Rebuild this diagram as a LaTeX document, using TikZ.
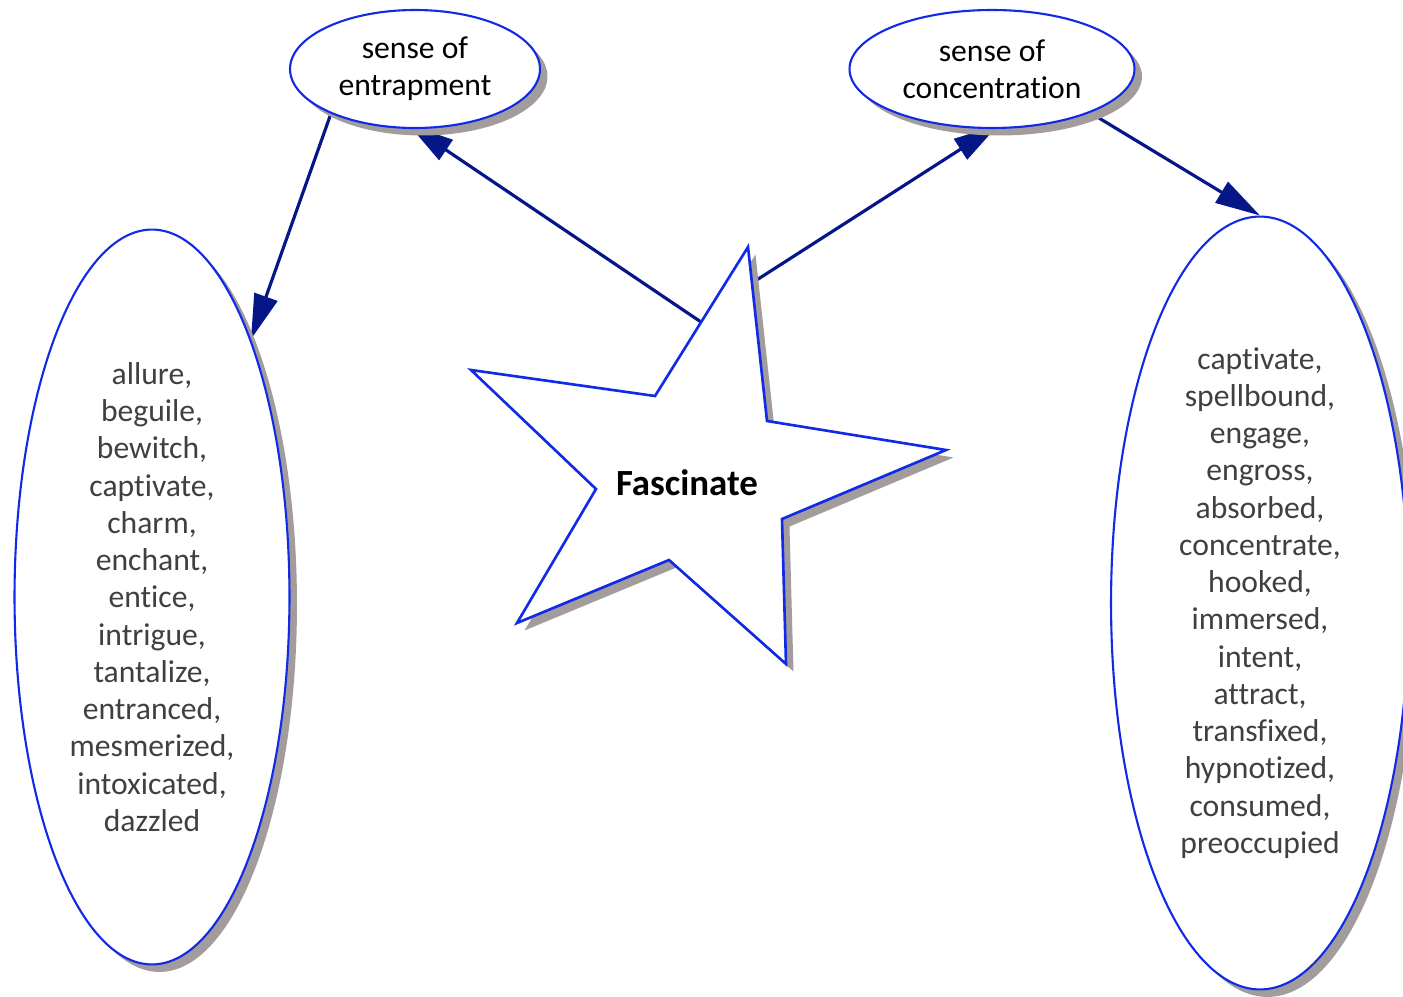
\documentclass[tikz,border=0pt]{standalone}
\usepackage{fontspec}
\setmainfont[Ligatures=NoCommon]{Carlito}
\usetikzlibrary{shapes.geometric,shadows,arrows.meta,backgrounds}
\definecolor{edgeblue}{RGB}{16,42,230}
\definecolor{arrownavy}{RGB}{5,22,135}
\definecolor{shadowgray}{RGB}{163,156,156}
\definecolor{wordgray}{RGB}{64,64,64}
\begin{document}
\begin{tikzpicture}[x=0.02cm, y=-0.02cm,
    oval/.style={ellipse, draw=edgeblue, line width=1.2pt, fill=white, inner sep=0pt, align=center,
        font=\fontsize{18}{21.2}\selectfont,
        drop shadow={shadow xshift=0.15cm, shadow yshift=-0.15cm, fill=shadowgray, opacity=1}},
    sense/.style={oval, minimum height=2.36cm},
    words/.style={oval, text=wordgray},
    arrow/.style={-{Triangle[length=0.9cm, width=0.48cm]}, line width=1.8pt, draw=arrownavy}
]
\useasboundingbox (0,0) rectangle (1403,997);

\node[sense, minimum width=5cm] (ent) at (415,69) {sense of\\entrapment};
\node[sense, minimum width=5.7cm] (conc) at (992,69) {sense of\\concentration};

\node[words, minimum width=5.5cm, minimum height=14.7cm] (lft) at (152,597)
    {allure,\\beguile,\\bewitch,\\captivate,\\charm,\\enchant,\\entice,\\intrigue,\\tantalize,\\entranced,\\mesmerized,\\intoxicated,\\dazzled};
\node[words, minimum width=5.96cm, minimum height=15.46cm] (rgt) at (1260,603)
    {captivate,\\spellbound,\\engage,\\engross,\\absorbed,\\concentrate,\\hooked,\\immersed,\\intent,\\attract,\\transfixed,\\hypnotized,\\consumed,\\preoccupied};

\filldraw[draw=edgeblue, line width=1.5pt, fill=white,
    drop shadow={shadow xshift=0.15cm, shadow yshift=-0.15cm, fill=shadowgray, opacity=1}]
    (471,370) -- (655,396) -- (748,247) -- (767,421) -- (946,450) -- (782,519)
    -- (786,664) -- (669,560) -- (517,623) -- (596,489) -- cycle;
\node[font=\fontsize{21}{25}\selectfont\bfseries] (fas) at (687,483) {Fascinate};
\coordinate (s1) at (701,322);
\coordinate (s2) at (752,283);

\begin{scope}[on background layer]
\draw[arrow] (ent.208) -- (lft.69);
\draw[arrow, shorten >=-0.15cm] (s1) -- (ent.south);
\draw[arrow, shorten >=-0.15cm] (s2) -- (conc.south);
\draw[arrow] (conc.336) -- (rgt.north);
\end{scope}
\end{tikzpicture}
\end{document}
